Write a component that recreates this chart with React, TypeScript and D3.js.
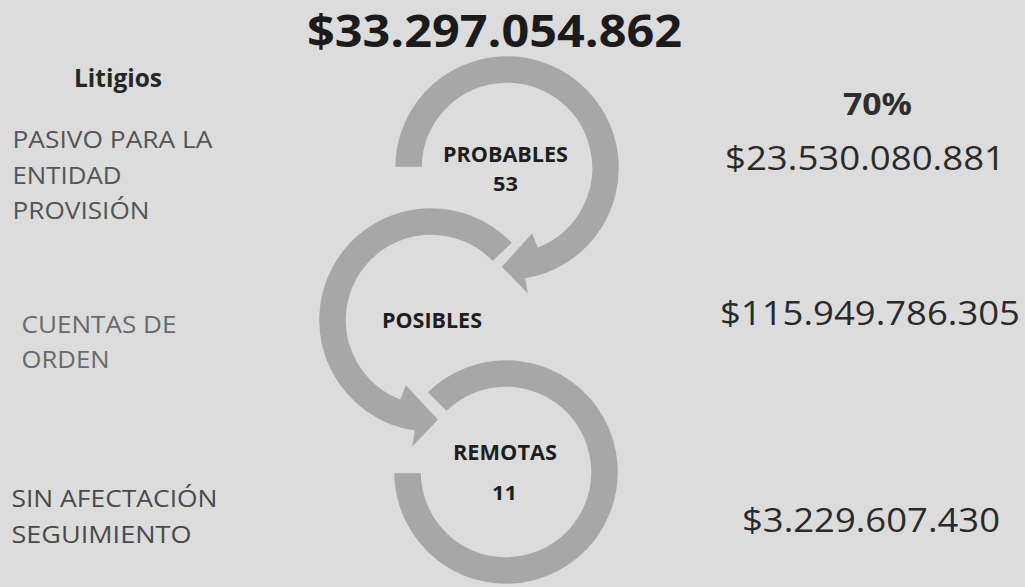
import React from "react";
import * as d3 from "d3";

// ---- data ----
const totalAmount = "$33.297.054.862";
const groupTitle = "Litigios";
const categories = ["PROBABLES", "POSIBLES", "REMOTAS"];
const counts = ["53", "", "11"];
const leftLabels = [
  ["PASIVO PARA LA", "ENTIDAD", "PROVISIÓN"],
  ["CUENTAS DE", "ORDEN"],
  ["SIN AFECTACIÓN", "SEGUIMIENTO"],
];
const percentLabel = "70%";
const amounts = ["$23.530.080.881", "$115.949.786.305", "$3.229.607.430"];

// ---- layout ----
const W = 1025;
const H = 587;
const FONT = "'Open Sans', 'Noto Sans', sans-serif";
const ARROW_FILL = "#a7a7a7";
const BG = "#dcdcdc";

type Polar = [number, number];
interface ArrowSpec {
  cx: number; cy: number; rIn: number; rOut: number;
  a0: number; aOut: number; aIn: number; cw: boolean;
  head?: { barbOut: Polar; tip: Polar; barbIn: Polar };
}

const arrows: ArrowSpec[] = [
  { cx: 507, cy: 168, rIn: 84, rOut: 113, a0: -90, aOut: 170, aIn: 158, cw: true,
    head: { barbOut: [170, 131], tip: [184, 99], barbIn: [158, 68] } },
  { cx: 431, cy: 320, rIn: 84, rOut: 113, a0: 47, aOut: -171, aIn: -158, cw: false,
    head: { barbOut: [-171, 132], tip: [-185, 100], barbIn: [-158, 68] } },
  { cx: 506, cy: 472, rIn: 84, rOut: 113, a0: -45, aOut: 270, aIn: 270, cw: true },
];

const rad = (a: number) => (a * Math.PI) / 180;

function arrowPath(s: ArrowSpec): string {
  const pt = (a: number, r: number): [number, number] => [
    s.cx + r * Math.sin(rad(a)),
    s.cy - r * Math.cos(rad(a)),
  ];
  const phi = (a: number) => rad(a - 90);
  const p = d3.path();
  const [x0, y0] = pt(s.a0, s.rOut);
  p.moveTo(x0, y0);
  p.arc(s.cx, s.cy, s.rOut, phi(s.a0), phi(s.aOut), !s.cw);
  if (s.head) {
    p.lineTo(...pt(...s.head.barbOut));
    p.lineTo(...pt(...s.head.tip));
    p.lineTo(...pt(...s.head.barbIn));
  }
  p.lineTo(...pt(s.aIn, s.rIn));
  p.arc(s.cx, s.cy, s.rIn, phi(s.aIn), phi(s.a0), s.cw);
  p.closePath();
  return p.toString();
}

// label positions: [x, baseline, width, fontSize]
const titlePos = { x: 307, y: 47, w: 375, fs: 45 };
const groupTitlePos = { x: 74, y: 87, w: 88, fs: 25 };
const leftPos = [
  { x: 12.5, ys: [148, 184, 219], ws: [200, 109, 137], fs: 24, fill: "#555555" },
  { x: 21.5, ys: [333, 368], ws: [155, 88], fs: 24, fill: "#6a6a6a" },
  { x: 11.5, ys: [507, 543], ws: [206, 180], fs: 24, fill: "#4a4a4a" },
];
const catPos = [
  { x: 443, y: 162, w: 125, fs: 20.5 },
  { x: 382, y: 328, w: 100, fs: 21 },
  { x: 453, y: 460, w: 104, fs: 21 },
];
const countPos = [
  { x: 493, y: 191, w: 25, fs: 20 },
  null,
  { x: 492, y: 500, w: 25, fs: 20 },
];
const pctPos = { x: 843, y: 115, w: 69, fs: 30 };
const amountPos = [
  { x: 725, y: 170, w: 280, fs: 32.5 },
  { x: 720, y: 325, w: 300, fs: 32.5 },
  { x: 742, y: 532, w: 258, fs: 33 },
];

export default function App() {
  return (
    <svg
      width={W}
      height={H}
      viewBox={`0 0 ${W} ${H}`}
      style={{ position: "absolute", left: 0, top: 0, display: "block" }}
    >
      <rect x={0} y={0} width={W} height={H} fill={BG} />
      {/* arrows: draw bottom first so the heads sit over next tails */}
      {[2, 1, 0].map((i) => (
        <path
          key={i}
          d={arrowPath(arrows[i])}
          fill={ARROW_FILL}
          stroke={BG}
          strokeWidth={2.5}
          strokeLinejoin="miter"
        />
      ))}

      <text x={titlePos.x} y={titlePos.y} fontFamily={FONT} fontWeight={700}
        fontSize={titlePos.fs} fill="#1b1b1b" textLength={titlePos.w}
        lengthAdjust="spacingAndGlyphs">{totalAmount}</text>

      <text x={groupTitlePos.x} y={groupTitlePos.y} fontFamily={FONT} fontWeight={700}
        fontSize={groupTitlePos.fs} fill="#262626" textLength={groupTitlePos.w}
        lengthAdjust="spacingAndGlyphs">{groupTitle}</text>

      {leftLabels.map((lines, g) =>
        lines.map((line, j) => (
          <text key={`${g}-${j}`} x={leftPos[g].x} y={leftPos[g].ys[j]} fontFamily={FONT}
            fontSize={leftPos[g].fs} fill={leftPos[g].fill} textLength={leftPos[g].ws[j]}
            lengthAdjust="spacingAndGlyphs">{line}</text>
        ))
      )}

      {categories.map((c, i) => (
        <text key={c} x={catPos[i].x} y={catPos[i].y} fontFamily={FONT} fontWeight={700}
          fontSize={catPos[i].fs} fill="#1e1e1e" textLength={catPos[i].w}
          lengthAdjust="spacingAndGlyphs">{c}</text>
      ))}
      {counts.map((n, i) => {
        const p = countPos[i];
        if (!n || !p) return null;
        return (
          <text key={`n${i}`} x={p.x} y={p.y} fontFamily={FONT} fontWeight={700}
            fontSize={p.fs} fill="#1e1e1e" textLength={p.w}
            lengthAdjust="spacingAndGlyphs">{n}</text>
        );
      })}

      <text x={pctPos.x} y={pctPos.y} fontFamily={FONT} fontWeight={700}
        fontSize={pctPos.fs} fill="#2e2e2e" textLength={pctPos.w}
        lengthAdjust="spacingAndGlyphs">{percentLabel}</text>

      {amounts.map((a, i) => (
        <text key={a} x={amountPos[i].x} y={amountPos[i].y} fontFamily={FONT}
          fontSize={amountPos[i].fs} fill="#2a2a2a" textLength={amountPos[i].w}
          lengthAdjust="spacingAndGlyphs">{a}</text>
      ))}
    </svg>
  );
}
